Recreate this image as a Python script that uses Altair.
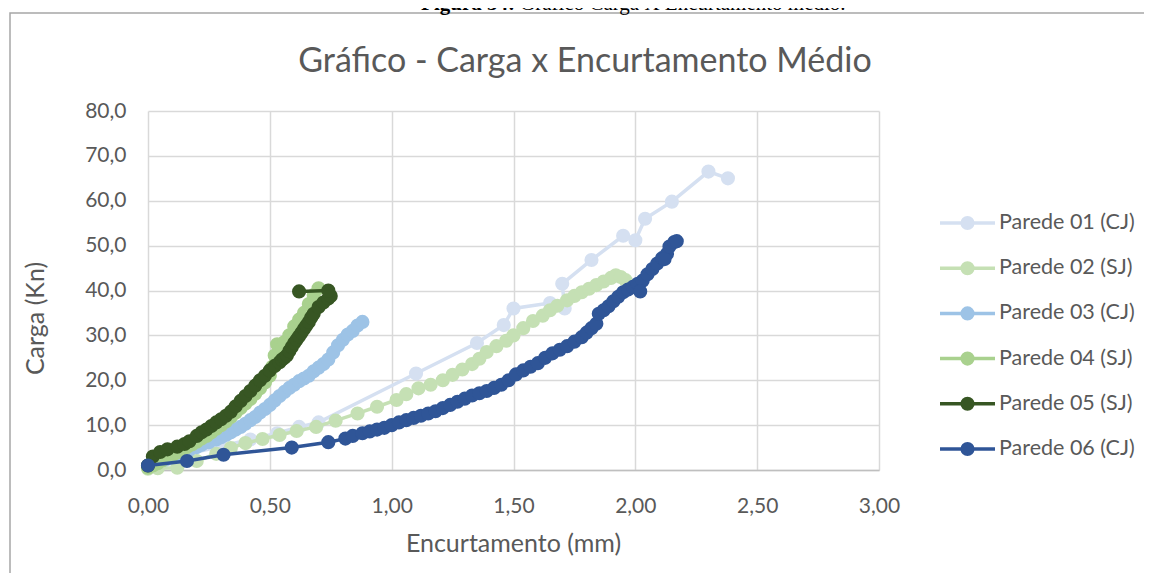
import altair as alt
import pandas as pd

series = ["Parede 01 (CJ)", "Parede 02 (SJ)", "Parede 03 (CJ)",
          "Parede 04 (SJ)", "Parede 05 (SJ)", "Parede 06 (CJ)"]
colors = ["#D5E0F1", "#C5E0B4", "#9DC3E6", "#A9D18E", "#375623", "#2F5597"]

x01 = [0.00, 0.08, 0.18, 0.30, 0.42, 0.53, 0.62, 0.70, 1.10, 1.35, 1.46, 1.50,
       1.65, 1.71, 1.70, 1.82, 1.95, 2.00, 2.04, 2.15, 2.30, 2.38]
y01 = [1.0, 2.4, 3.8, 5.3, 6.8, 8.2, 9.6, 10.6, 21.5, 28.3, 32.3, 36.0,
       37.2, 36.0, 41.5, 46.8, 52.2, 51.2, 56.0, 59.8, 66.5, 65.0]

x02 = [0.00, 0.04, 0.12, 0.20, 0.28, 0.34, 0.40, 0.47, 0.54, 0.61, 0.69, 0.77,
       0.86, 0.94, 1.02, 1.06, 1.11, 1.16, 1.21, 1.25, 1.29, 1.33, 1.36, 1.39,
       1.43, 1.47, 1.50, 1.54, 1.58, 1.62, 1.65, 1.68, 1.72, 1.75, 1.78, 1.81,
       1.84, 1.87, 1.90, 1.92, 1.94, 1.96]
y02 = [0.3, 0.4, 0.5, 2.0, 3.6, 4.9, 6.0, 6.9, 7.8, 8.7, 9.6, 11.0,
       12.6, 14.1, 15.6, 16.9, 18.2, 19.0, 20.0, 21.2, 22.4, 23.6, 24.8, 26.3,
       27.6, 28.8, 30.0, 31.6, 33.2, 34.4, 35.6, 36.6, 37.8, 38.8, 39.6, 40.4,
       41.2, 42.0, 42.8, 43.4, 43.0, 42.3]

x03 = [0.00, 0.02, 0.04, 0.07, 0.09, 0.12, 0.14, 0.17, 0.20, 0.22, 0.25, 0.28,
       0.30, 0.32, 0.34, 0.36, 0.38, 0.40, 0.42, 0.44, 0.46, 0.48, 0.50, 0.52,
       0.54, 0.56, 0.58, 0.60, 0.62, 0.64, 0.66, 0.68, 0.70, 0.72, 0.74, 0.76,
       0.78, 0.80, 0.82, 0.84, 0.86, 0.88]
y03 = [1.0, 1.4, 1.8, 2.3, 2.8, 3.4, 3.9, 4.5, 5.1, 5.6, 6.2, 6.8,
       7.3, 7.8, 8.4, 9.0, 9.6, 10.3, 11.1, 11.8, 12.8, 13.6, 14.5, 15.5,
       16.5, 17.4, 18.3, 19.0, 19.8, 20.4, 21.0, 22.0, 22.8, 23.6, 24.6, 26.2,
       27.8, 29.0, 30.2, 31.0, 32.2, 33.0]

x04 = [0.00, 0.02, 0.04, 0.06, 0.08, 0.10, 0.12, 0.14, 0.16, 0.18, 0.20, 0.22,
       0.24, 0.26, 0.28, 0.30, 0.32, 0.34, 0.36, 0.38, 0.40, 0.42, 0.44, 0.46,
       0.48, 0.50, 0.51, 0.52, 0.53, 0.54, 0.55, 0.56, 0.58, 0.60, 0.62, 0.64,
       0.66, 0.68, 0.70]
y04 = [0.5, 1.0, 1.5, 2.2, 2.8, 3.3, 3.9, 4.5, 5.1, 5.7, 6.3, 7.0,
       7.6, 8.4, 9.2, 10.0, 10.8, 11.8, 12.8, 13.8, 14.8, 15.8, 17.0, 18.2,
       19.5, 21.0, 23.0, 25.5, 28.0, 27.5, 27.0, 28.5, 30.0, 32.0, 33.5, 35.0,
       37.0, 39.0, 40.5]

x05 = [0.00, 0.02, 0.05, 0.08, 0.12, 0.15, 0.17, 0.20, 0.22, 0.24, 0.26, 0.28,
       0.30, 0.32, 0.34, 0.36, 0.38, 0.40, 0.42, 0.44, 0.46, 0.48, 0.50, 0.52,
       0.54, 0.55, 0.56, 0.57, 0.58, 0.59, 0.60, 0.61, 0.62, 0.63, 0.64, 0.65,
       0.66, 0.67, 0.68, 0.70, 0.72, 0.74, 0.75, 0.74, 0.62]
y05 = [1.0, 3.0, 4.0, 4.6, 5.2, 5.8, 6.4, 7.6, 8.4, 9.0, 9.8, 10.6,
       11.3, 12.1, 13.0, 14.2, 15.4, 16.5, 17.6, 18.8, 20.0, 21.0, 22.2, 23.2,
       24.0, 24.6, 25.0, 25.5, 26.5, 27.4, 28.3, 29.0, 29.8, 30.6, 31.4, 32.2,
       33.0, 34.0, 34.8, 36.3, 37.3, 38.2, 38.8, 40.0, 39.8]

x06 = [0.00, 0.16, 0.31, 0.59, 0.74, 0.81, 0.84, 0.88, 0.91, 0.94, 0.97, 1.00,
       1.03, 1.06, 1.09, 1.12, 1.15, 1.18, 1.21, 1.24, 1.27, 1.30, 1.33, 1.36,
       1.39, 1.42, 1.45, 1.48, 1.51, 1.54, 1.57, 1.60, 1.63, 1.66, 1.69, 1.72,
       1.75, 1.78, 1.80, 1.82, 1.84, 1.85, 1.87, 1.89, 1.91, 1.93, 1.95, 1.97,
       1.99, 2.01, 2.03, 2.02, 2.05, 2.07, 2.09, 2.11, 2.13, 2.12, 2.14, 2.16, 2.17]
y06 = [1.0, 2.0, 3.4, 5.0, 6.2, 7.0, 7.6, 8.2, 8.6, 9.0, 9.4, 10.0,
       10.6, 11.1, 11.6, 12.1, 12.6, 13.1, 13.8, 14.5, 15.2, 15.9, 16.6, 17.1,
       17.6, 18.3, 19.0, 20.0, 21.3, 22.2, 23.0, 23.8, 25.0, 26.0, 26.8, 27.6,
       28.6, 29.6, 30.6, 31.6, 32.6, 34.8, 35.6, 36.5, 37.6, 38.6, 39.6, 40.2,
       40.8, 41.5, 42.2, 39.8, 43.6, 44.8, 46.0, 47.2, 48.2, 47.0, 49.8, 50.8, 51.0]

x_ticks = [0.0, 0.5, 1.0, 1.5, 2.0, 2.5, 3.0]
y_ticks = [0, 10, 20, 30, 40, 50, 60, 70, 80]

xs = [x01, x02, x03, x04, x05, x06]
ys = [y01, y02, y03, y04, y05, y06]
rows = []
for s, xv, yv in zip(series, xs, ys):
    for i, (a, b) in enumerate(zip(xv, yv)):
        rows.append({"s": s, "x": a, "y": b, "i": i})
df = pd.DataFrame(rows)
one = pd.DataFrame({"k": [0]})

FONT = "Lato"
GRAY = "#595959"
W, H = 731, 359
PL, PT = 140, 103
MS = 200

sc = alt.Scale(domain=series, range=colors)
X = alt.X("x:Q", scale=alt.Scale(domain=[0, 3], nice=False),
          axis=alt.Axis(values=x_ticks, title="Encurtamento (mm)",
                        labelExpr="replace(format(datum.value, '.2f'), '.', ',')",
                        titleX=365, titleY=73, titleBaseline="middle"))
Y = alt.Y("y:Q", scale=alt.Scale(domain=[0, 80], nice=False),
          axis=alt.Axis(values=y_ticks, title="Carga (Kn)",
                        labelExpr="replace(format(datum.value, '.1f'), '.', ',')",
                        titleX=-113, titleY=207, titleBaseline="middle"))


def txt(text, x, y, size, **kw):
    return alt.Chart(one).mark_text(text=text, fontSize=size, **kw).encode(
        x=alt.value(x), y=alt.value(y))


frame = alt.Chart(one).mark_rect(fill=None, stroke="#A6A6A6", strokeWidth=1.5).encode(
    x=alt.value(-138), x2=alt.value(1100), y=alt.value(-98), y2=alt.value(600))
cap1 = txt("Figura 34:", 367, -101, 21, font="Liberation Serif", fontWeight="bold",
           align="right", baseline="alphabetic", color="#000000")
cap2 = txt("Gráfico Carga X Encurtamento médio.", 372, -101, 21, font="Liberation Serif",
           align="left", baseline="alphabetic", color="#000000")
title = txt("Gráfico - Carga x Encurtamento Médio", 437, -39, 34, font=FONT,
            align="center", baseline="alphabetic", color=GRAY)

base = alt.Chart(df)
layers = [frame]
for s in series:
    f = base.transform_filter(alt.datum.s == s)
    layers.append(f.mark_line(strokeWidth=3.5).encode(
        x=X, y=Y, stroke=alt.Stroke("s:N", scale=sc, legend=None), order="i:Q"))
    layers.append(f.mark_circle(size=MS, opacity=1).encode(
        x=X, y=Y, fill=alt.Fill("s:N", scale=sc, legend=None)))

# legend (drawn as marks)
leg_y0, leg_dy = 112, 45.2
for k, (s, c) in enumerate(zip(series, colors)):
    yy = leg_y0 + k * leg_dy
    layers.append(alt.Chart(one).mark_rule(stroke=c, strokeWidth=3.5).encode(
        x=alt.value(792), x2=alt.value(847), y=alt.value(yy)))
    layers.append(alt.Chart(one).mark_circle(size=MS, opacity=1, color=c).encode(
        x=alt.value(819.5), y=alt.value(yy)))
    layers.append(txt(s, 851, yy, 21.5, font=FONT, align="left", baseline="middle", color=GRAY))

layers += [cap1, cap2, title]

chart = alt.layer(*layers).properties(
    width=W, height=H,
    autosize=alt.AutoSizeParams(type="none"),
    padding={"left": PL, "top": PT, "right": 1136 - PL - W, "bottom": 565 - PT - H},
).configure_view(stroke=None).configure_axis(
    labelFont=FONT, labelFontSize=21, labelColor=GRAY, labelFlush=False,
    titleFont=FONT, titleFontSize=25, titleColor=GRAY, titleFontWeight="normal",
    gridColor="#D9D9D9", gridWidth=1.5, tickSize=0, domain=False,
).configure_axisX(
    labelPadding=25, domain=True, domainColor="#BFBFBF", domainWidth=1.5,
).configure_axisY(labelPadding=22)

chart.save("out.html", embed_options={"renderer": "svg", "actions": False})
